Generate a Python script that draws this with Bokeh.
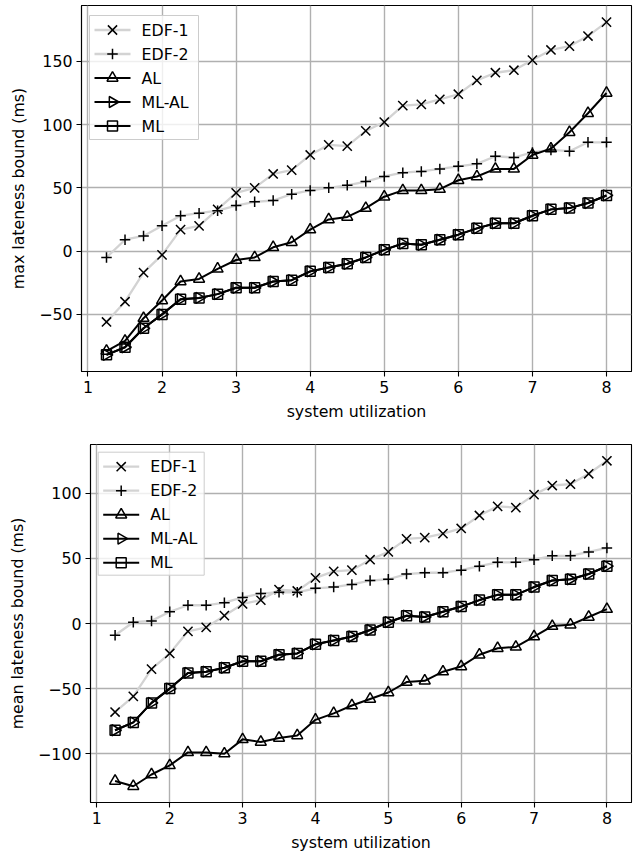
import numpy as np
from bokeh.plotting import figure
from bokeh.models import Range1d, FixedTicker, CustomJSTickFormatter
from bokeh.core.properties import value
from bokeh.embed import file_html
from bokeh.resources import INLINE

# system utilization (x) for every series
utilization = [1.25, 1.5, 1.75, 2.0, 2.25, 2.5, 2.75, 3.0, 3.25, 3.5, 3.75,
               4.0, 4.25, 4.5, 4.75, 5.0, 5.25, 5.5, 5.75, 6.0, 6.25, 6.5,
               6.75, 7.0, 7.25, 7.5, 7.75, 8.0]

# max lateness bound (ms)
max_edf1 = [-56, -40, -17, -3, 17, 20, 33, 46, 50, 61, 64, 76, 84, 83, 95,
            102, 115, 116, 120, 124, 135, 141, 143, 151, 159, 162, 170, 181]
max_edf2 = [-5, 9, 12, 20, 28, 30, 32, 36, 39, 40, 45, 48, 50, 52, 55, 59,
            62, 63, 65, 67, 69, 75, 74, 78, 80, 79, 86, 86]
max_al = [-79, -71, -53, -39, -24, -22, -14, -7, -5, 3, 7, 17, 25, 27, 34,
          43, 48, 48, 49, 56, 59, 65, 65, 76, 81, 94, 109, 125]
max_mlal = [-82, -76, -61, -50, -38, -37, -34, -29, -29, -24, -23, -16, -13,
            -10, -5, 1, 6, 5, 9, 13, 18, 22, 22, 28, 33, 34, 38, 44]
max_ml = [-82, -76, -61, -50, -38, -37, -34, -29, -29, -24, -23, -16, -13,
          -10, -5, 1, 6, 5, 9, 13, 18, 22, 22, 28, 33, 34, 38, 44]

# mean lateness bound (ms)
mean_edf1 = [-68, -56, -35, -23, -6, -3, 6, 15, 18, 26, 25, 35, 40, 41, 49,
             55, 65, 66, 69, 73, 83, 90, 89, 99, 106, 107, 115, 125]
mean_edf2 = [-9, 1, 2, 9, 14, 14, 16, 20, 23, 24, 24, 27, 28, 30, 33, 34,
             38, 39, 39, 41, 44, 47, 47, 49, 52, 52, 55, 58]
mean_al = [-121, -125, -116, -109, -99, -99, -100, -89, -91, -88, -86, -74,
           -69, -63, -58, -53, -45, -44, -37, -33, -24, -19, -18, -10, -2,
           -1, 5, 11]
mean_mlal = [-82, -76, -61, -50, -38, -37, -34, -29, -29, -24, -23, -16, -13,
             -10, -5, 1, 6, 5, 9, 13, 18, 22, 22, 28, 33, 34, 38, 44]
mean_ml = [-82, -76, -61, -50, -38, -37, -34, -29, -29, -24, -23, -16, -13,
           -10, -5, 1, 6, 5, 9, 13, 18, 22, 22, 28, 33, 34, 38, 44]

series_names = ["EDF-1", "EDF-2", "AL", "ML-AL", "ML"]
x_ticks = [1, 2, 3, 4, 5, 6, 7, 8]
max_y_ticks = [-50, 0, 50, 100, 150]
mean_y_ticks = [-100, -50, 0, 50, 100]

FONT = "DejaVu Sans"
FS = "15.8px"
GRAY = "#d3d3d3"

# per-series line / marker styling, in legend order
STYLES = [
    dict(color=GRAY, lw=2.3, marker="x", size=13, angle=0.0),
    dict(color=GRAY, lw=2.3, marker="cross", size=10.5, angle=0.0),
    dict(color="black", lw=2.0, marker="triangle", size=11, angle=0.0),
    dict(color="black", lw=2.0, marker="triangle", size=11, angle=-np.pi / 2),
    dict(color="black", lw=2.0, marker="square", size=10, angle=0.0),
]

minus_fmt = CustomJSTickFormatter(
    code="return tick < 0 ? '\u2212' + Math.abs(tick) : String(tick);")


def padded(vals, frac=0.05):
    lo, hi = min(vals), max(vals)
    pad = (hi - lo) * frac
    return lo - pad, hi + pad


def make_panel(ylabel, series, yticks, frame_w, frame_h, left, top,
               legend_box):
    xlo, xhi = padded(utilization)
    ylo, yhi = padded([v for s in series for v in s])
    p = figure(frame_width=frame_w, frame_height=frame_h,
               output_backend="svg", toolbar_location=None,
               x_range=Range1d(xlo, xhi), y_range=Range1d(ylo, yhi),
               min_border_left=left, min_border_right=8,
               min_border_top=top, min_border_bottom=54)
    # pixel space of the frame, used for the legend block
    p.extra_x_ranges = {"px": Range1d(0, frame_w)}
    p.extra_y_ranges = {"px": Range1d(0, frame_h)}
    p.background_fill_color = "white"
    p.border_fill_color = "white"
    p.outline_line_color = "black"
    p.outline_line_width = 1.1

    for ax, ticks in ((p.xaxis[0], x_ticks), (p.yaxis[0], yticks)):
        ax.ticker = FixedTicker(ticks=ticks)
        ax.minor_tick_line_color = None
        ax.major_tick_in = 0
        ax.major_tick_out = 5
        ax.major_tick_line_color = "black"
        ax.major_tick_line_width = 1.1
        ax.axis_line_color = "black"
        ax.axis_line_width = 1.1
        ax.major_label_text_font = FONT
        ax.major_label_text_font_size = FS
        ax.major_label_text_color = "black"
        ax.major_label_standoff = 4
        ax.axis_label_text_font = FONT
        ax.axis_label_text_font_size = FS
        ax.axis_label_text_font_style = "normal"
        ax.axis_label_text_color = "black"
    p.yaxis[0].formatter = minus_fmt
    p.xaxis[0].axis_label = "system utilization"
    p.xaxis[0].axis_label_standoff = 6
    p.yaxis[0].axis_label = ylabel
    p.yaxis[0].axis_label_standoff = 8

    for g in (p.xgrid[0], p.ygrid[0]):
        g.grid_line_color = "#b0b0b0"
        g.grid_line_width = 1.4

    # data curves
    for vals, st in zip(series, STYLES):
        p.line(utilization, vals, line_color=st["color"], line_width=st["lw"])
        p.scatter(utilization, vals, marker=st["marker"], size=st["size"],
                  angle=st["angle"], line_color="black", line_width=1.5,
                  fill_alpha=0)

    # legend block (upper left)
    bx, btop, bw, bh = legend_box
    p.quad(left=[bx], right=[bx + bw], top=[frame_h - btop],
           bottom=[frame_h - btop - bh], x_range_name="px", y_range_name="px",
           fill_color="white", fill_alpha=0.8, line_color="#cccccc",
           line_width=1)
    for i, (name, st) in enumerate(zip(series_names, STYLES)):
        yc = frame_h - btop - 14.5 - 24 * i
        p.line([bx + 5, bx + 41], [yc, yc], x_range_name="px",
               y_range_name="px", line_color=st["color"], line_width=st["lw"])
        p.scatter([bx + 23], [yc], x_range_name="px", y_range_name="px",
                  marker=st["marker"], size=st["size"], angle=st["angle"],
                  line_color="black", line_width=1.5, fill_alpha=0)
        p.text([bx + 52], [yc], text=[name], x_range_name="px",
               y_range_name="px", text_font=value(FONT),
               text_font_size=value(FS), text_baseline="middle",
               text_align="left", text_color="black")
    return p


p1 = make_panel("max lateness bound (ms)",
                [max_edf1, max_edf2, max_al, max_mlal, max_ml],
                max_y_ticks, 550, 366, 81, 5, (8, 10, 109, 124))
p2 = make_panel("mean lateness bound (ms)",
                [mean_edf1, mean_edf2, mean_al, mean_mlal, mean_ml],
                mean_y_ticks, 541, 358, 90, 19, (7.7, 7.7, 106, 123))

# two independent roots, stacked top to bottom
open("out.html", "w").write(file_html([p1, p2], INLINE))
